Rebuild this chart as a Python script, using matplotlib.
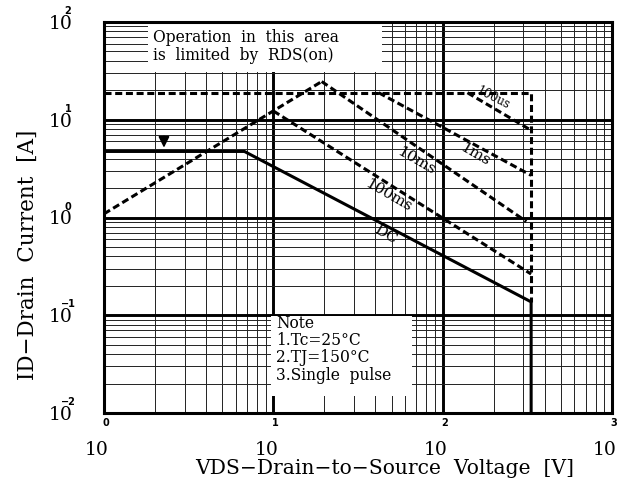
import matplotlib

matplotlib.use("Agg")
import matplotlib.pyplot as plt
from matplotlib.patches import Rectangle
from matplotlib.ticker import LogLocator, NullFormatter

FIG_W, FIG_H = 621, 493
DPI = 100

# safe operating area, drain voltage [V] vs drain current [A]
limit_v = [1, 333, 333]
limit_i = [18.9, 18.9, 0.137]
rds_v = [1, 19.3]
rds_i = [1.09, 24.6]
us100_v = [140, 333]
us100_i = [18.9, 7.8]
ms1_v = [41.9, 333]
ms1_i = [18.9, 2.7]
ms10_v = [19.3, 312]
ms10_i = [24.6, 0.91]
ms100_v = [10, 333]
ms100_i = [12.3, 0.264]
dc_v = [1, 6.75, 333, 333]
dc_i = [4.74, 4.74, 0.137, 0.01]

curve_labels = ["100us", "1ms", "10ms", "100ms", "DC"]
label_v = [200, 156, 69.7, 47.9, 46]
label_i = [16.5, 4.4, 3.8, 1.68, 0.667]
label_rot = [-27, -30, -30, -30, -30]

arrow_v = 2.26
arrow_from_i = 7.2
arrow_to_i = 4.85

x_decades = [0, 1, 2, 3]
y_decades = [-2, -1, 0, 1, 2]

note_lines = ["Note", "1.Tc=25°C", "2.TJ=150°C", "3.Single  pulse"]

plt.rcParams["font.family"] = ["DejaVu Serif"]


def fx(px):
    return px / FIG_W


def fy(py):
    return 1 - py / FIG_H


fig = plt.figure(figsize=(FIG_W / DPI, FIG_H / DPI), dpi=DPI)
ax = fig.add_axes([fx(104), fy(413), fx(612) - fx(104), fy(22) - fy(413)])
ax.set_xscale("log")
ax.set_yscale("log")
ax.set_xlim(1, 1000)
ax.set_ylim(0.01, 100)
ax.set_axisbelow(True)

ax.xaxis.set_minor_locator(LogLocator(base=10, subs=range(2, 10)))
ax.yaxis.set_minor_locator(LogLocator(base=10, subs=range(2, 10)))
ax.xaxis.set_minor_formatter(NullFormatter())
ax.yaxis.set_minor_formatter(NullFormatter())
ax.set_xticklabels([])
ax.set_yticklabels([])
ax.tick_params(which="both", length=0)
ax.grid(which="major", color="black", linewidth=2.1)
ax.grid(which="minor", color="#222222", linewidth=0.7)
for spine in ax.spines.values():
    spine.set_linewidth(2.2)

# white boxes behind the notes hide the grid
ax.add_patch(Rectangle((0.087, 0.872), 0.46, 0.128, transform=ax.transAxes,
                       facecolor="white", edgecolor="none", zorder=1))
ax.add_patch(Rectangle((0.329, 0.043), 0.277, 0.205, transform=ax.transAxes,
                       facecolor="white", edgecolor="none", zorder=1))

dash_kw = dict(color="black", linewidth=2.2, linestyle=(0, (2.3, 1.2)), zorder=2)
ax.plot(limit_v, limit_i, **dash_kw)
ax.plot(rds_v, rds_i, **dash_kw)
ax.plot(us100_v, us100_i, **dash_kw)
ax.plot(ms1_v, ms1_i, **dash_kw)
ax.plot(ms10_v, ms10_i, **dash_kw)
ax.plot(ms100_v, ms100_i, **dash_kw)
ax.plot(dc_v, dc_i, color="black", linewidth=2.2, zorder=2)

for text, v, i, rot in zip(curve_labels, label_v, label_i, label_rot):
    size = 8.5 if text == "100us" else 11
    ax.text(v, i, text, rotation=rot, ha="center", va="center",
            fontsize=size, zorder=3)

ax.annotate("", xy=(arrow_v, arrow_to_i), xytext=(arrow_v, arrow_from_i),
            arrowprops=dict(arrowstyle="-|>", color="black", lw=1.3,
                            mutation_scale=16), zorder=3)

fig.text(fx(153), fy(37), "Operation  in  this  area", fontsize=11.2,
         va="center", ha="left")
fig.text(fx(153), fy(56), "is  limited  by  RDS(on)", fontsize=11.2,
         va="center", ha="left")

for k, line in enumerate(note_lines):
    fig.text(fx(276), fy(323 + 17.5 * k), line, fontsize=11.2,
             va="center", ha="left")

# decade labels drawn as "10" with a small raised exponent
for d in y_decades:
    ax.annotate("10", xy=(1, 10.0 ** d), xytext=(-31, -2),
                textcoords="offset pixels", ha="right", va="center",
                fontsize=13.5, annotation_clip=False)
    ax.annotate(str(d).replace("-", "\u2212"), xy=(1, 10.0 ** d),
                xytext=(-36, 11), textcoords="offset pixels", ha="center",
                va="center", fontsize=7, fontweight="bold",
                family="DejaVu Sans", annotation_clip=False)
for d in x_decades:
    ax.annotate("10", xy=(10.0 ** d, 0.01), xytext=(-7, -37),
                textcoords="offset pixels", ha="center", va="center",
                fontsize=13.5, annotation_clip=False)
    ax.annotate(str(d), xy=(10.0 ** d, 0.01), xytext=(2, -10),
                textcoords="offset pixels", ha="center", va="center",
                fontsize=7, fontweight="bold", family="DejaVu Sans",
                annotation_clip=False)

fig.text(fx(385), fy(468), "VDS\u2212Drain\u2212to\u2212Source  Voltage  [V]",
         fontsize=14.6, ha="center", va="center")
fig.text(fx(28), fy(255), "ID\u2212Drain  Current  [A]", fontsize=15.5,
         ha="center", va="center", rotation=90)

fig.savefig("out.png", dpi=DPI)
